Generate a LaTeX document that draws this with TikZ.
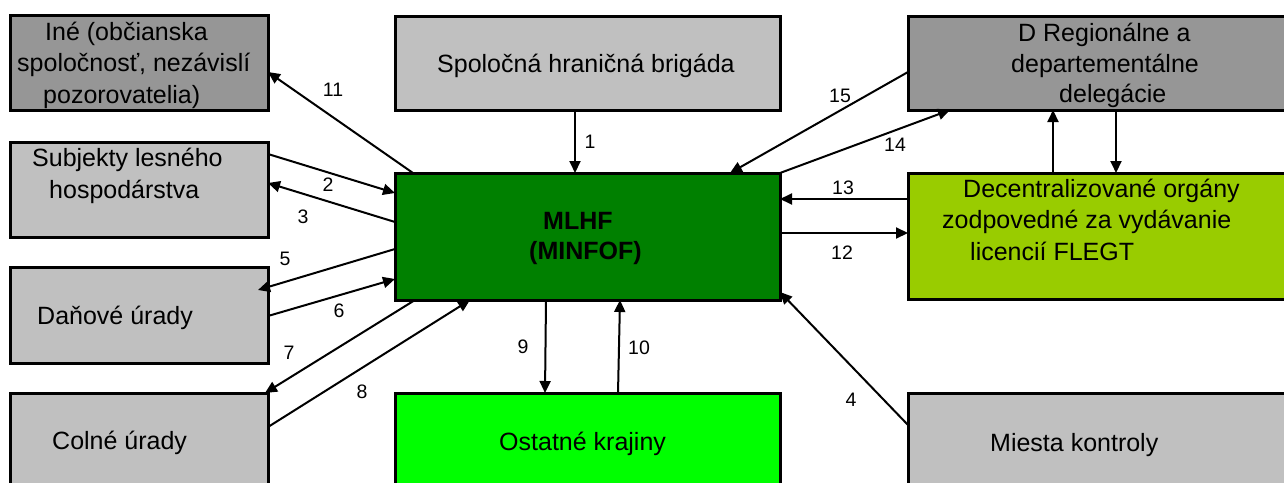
\documentclass[tikz,border=0pt]{standalone}
\usepackage{fontspec}
\setmainfont{Liberation Sans}
\usetikzlibrary{arrows.meta}
\definecolor{lgray}{HTML}{C0C0C0}
\definecolor{dgray}{HTML}{969696}
\definecolor{mgreen}{HTML}{008000}
\definecolor{bgreen}{HTML}{00FF00}
\definecolor{ygreen}{HTML}{99CC00}
\begin{document}
\begin{tikzpicture}[x=1pt,y=-1pt,
  box/.style={draw=black,line width=3pt,inner sep=0pt,outer sep=0pt,anchor=north west},
  txt/.style={anchor=base west,inner sep=0pt,font=\fontsize{25}{30}\selectfont},
  num/.style={inner sep=0pt,font=\fontsize{19.5}{22}\selectfont},
  arr/.style={line width=2pt,-{Triangle[length=12pt,width=11pt]}}]
\useasboundingbox (0,0) rectangle (1284,482);
\clip (0,0) rectangle (1284,482);
% boxes
\node[box,fill=dgray,minimum width=258pt,minimum height=95pt] (ine) at (10,15) {};
\node[box,fill=lgray,minimum width=258pt,minimum height=95pt] (subj) at (10,142) {};
\node[box,fill=lgray,minimum width=258pt,minimum height=96pt] (dan) at (10,267) {};
\node[box,fill=lgray,minimum width=258pt,minimum height=120pt] (col) at (10,393) {};
\node[box,fill=lgray,minimum width=385pt,minimum height=94pt] (spol) at (395,16) {};
\node[box,fill=mgreen,minimum width=385pt,minimum height=127pt] (mlhf) at (395,173) {};
\node[box,fill=bgreen,minimum width=385pt,minimum height=120pt] (ost) at (395,393) {};
\node[box,fill=dgray,minimum width=400pt,minimum height=94pt] (dreg) at (908,16) {};
\node[box,fill=ygreen,minimum width=400pt,minimum height=126pt] (dec) at (908,173) {};
\node[box,fill=lgray,minimum width=400pt,minimum height=120pt] (mies) at (908,393) {};
% texts
\node[txt] (ineA) at (45,40) {Iné (občianska};
\node[txt] (ineB) at (17,71.5) {spoločnosť, nezávislí};
\node[txt] (ineC) at (43,103) {pozorovatelia)};
\node[txt] (subjA) at (32,166) {Subjekty lesného};
\node[txt] (subjB) at (49,198) {hospodárstva};
\node[txt] (danT) at (37,324) {Daňové úrady};
\node[txt] (colT) at (52,449) {Colné úrady};
\node[txt] (spolT) at (437,72) {Spoločná hraničná brigáda};
\node[txt,font=\fontsize{25}{30}\selectfont\bfseries] (mlhfA) at (543,229) {MLHF};
\node[txt,font=\fontsize{25}{30}\selectfont\bfseries] (mlhfB) at (529,259) {(MINFOF)};
\node[txt] (ostT) at (499,450) {Ostatné krajiny};
\node[txt] (dregA) at (1018,41) {D Regionálne a};
\node[txt] (dregB) at (1011,72) {departementálne};
\node[txt] (dregC) at (1059,102) {delegácie};
\node[txt] (decA) at (963,197) {Decentralizované orgány};
\node[txt] (decB) at (942,228) {zodpovedné za vydávanie};
\node[txt] (decC) at (970,260) {licencií FLEGT};
\node[txt] (miesT) at (990,451) {Miesta kontroly};
% arrows
\draw[arr] ([xshift=-12.5pt]spol.south) -- ([xshift=-12.5pt]mlhf.north);
\draw[arr] ([xshift=18pt]mlhf.north west) -- ([yshift=-9.5pt]ine.east);
\draw[arr] ([yshift=35.5pt]subj.east) -- ([yshift=43.5pt]mlhf.west);
\draw[arr] ([yshift=14.5pt]mlhf.west) -- ([yshift=6.5pt]subj.east);
\draw[arr] ([yshift=-12.5pt]mlhf.west) -- ([xshift=-10pt,yshift=25pt]dan.east);
\draw[arr] ([yshift=-1pt]dan.east) -- ([yshift=-42.5pt]mlhf.west);
\draw[arr] ([xshift=20pt]mlhf.south west) -- ([xshift=-3pt]col.north east);
\draw[arr] ([yshift=-34pt]col.north east) -- ([xshift=75pt]mlhf.south west);
\draw[arr] ([xshift=151pt]mlhf.south west) -- ([xshift=150pt]ost.north west);
\draw[arr] ([xshift=223pt]ost.north west) -- ([xshift=225pt]mlhf.south west);
\draw[arr] ([yshift=-32pt]mies.north west) -- ([yshift=8pt]mlhf.south east);
\draw[arr] ([yshift=3.5pt]mlhf.east) -- ([yshift=3pt]dec.west);
\draw[arr] ([yshift=37pt]dec.west) -- ([yshift=37.5pt]mlhf.east);
\draw[arr] (mlhf.north east) -- ([xshift=42pt]dreg.south west);
\draw[arr] ([yshift=-9pt]dreg.west) -- ([xshift=-50pt]mlhf.north east);
\draw[arr] ([xshift=145pt]dec.north west) -- ([xshift=145pt]dreg.south west);
\draw[arr] ([xshift=208pt]dreg.south west) -- ([xshift=208pt]dec.north west);
% numbers
\node[num] (n1) at (590,142) {1};
\node[num] (n11) at (333,90) {11};
\node[num] (n2) at (328,185) {2};
\node[num] (n3) at (303,217) {3};
\node[num] (n5) at (285,259) {5};
\node[num] (n6) at (339,311) {6};
\node[num] (n7) at (289,353) {7};
\node[num] (n8) at (362,392) {8};
\node[num] (n9) at (523,347) {9};
\node[num] (n10) at (639,348) {10};
\node[num] (n4) at (851,400) {4};
\node[num] (n12) at (842,253) {12};
\node[num] (n13) at (843,188) {13};
\node[num] (n14) at (895,145) {14};
\node[num] (n15) at (840,96) {15};
\end{tikzpicture}
\end{document}
